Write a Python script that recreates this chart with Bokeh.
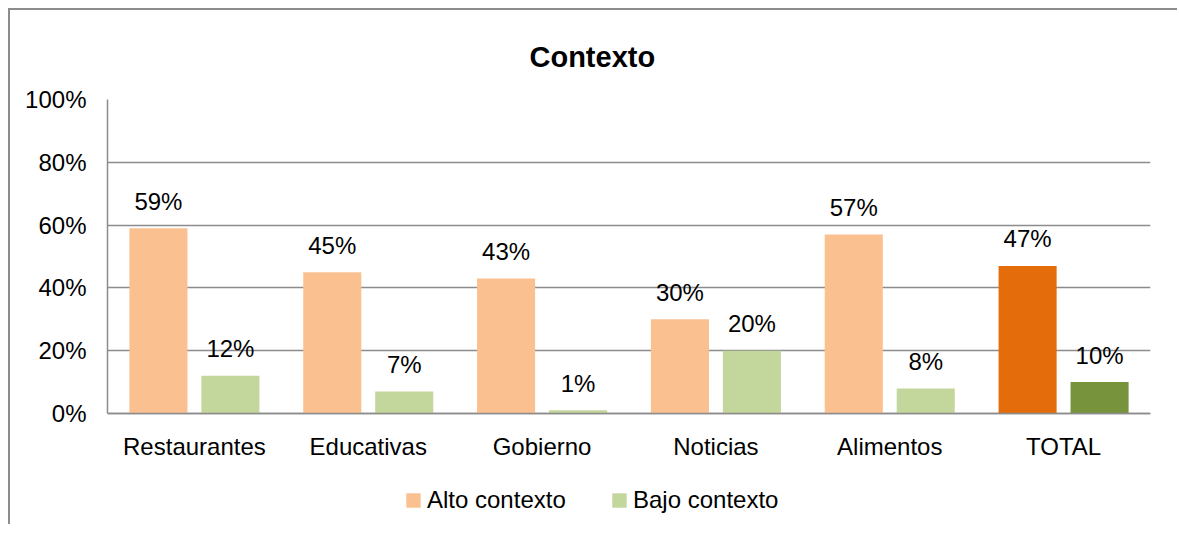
from bokeh.plotting import figure
from bokeh.models import (ColumnDataSource, Range1d, FixedTicker, PrintfTickFormatter,
                          Legend, LegendItem)
from bokeh.transform import dodge
from bokeh.embed import file_html
from bokeh.resources import INLINE
from bokeh.core.properties import value

# ---- data ----
categories = ["Restaurantes", "Educativas", "Gobierno", "Noticias", "Alimentos", "TOTAL"]
alto = [59, 45, 43, 30, 57, 47]
bajo = [12, 7, 1, 20, 8, 10]
alto_colors = ["#FAC090", "#FAC090", "#FAC090", "#FAC090", "#FAC090", "#E46C0A"]
bajo_colors = ["#C3D69B", "#C3D69B", "#C3D69B", "#C3D69B", "#C3D69B", "#77933C"]
series_names = ["Alto contexto", "Bajo contexto"]
y_ticks = [0, 20, 40, 60, 80, 100]
title_text = "Contexto"

FONT = "Liberation Sans"
GRID = "#8c8c8c"

src = ColumnDataSource(dict(
    cat=categories,
    alto=alto,
    bajo=bajo,
    alto_color=alto_colors,
    bajo_color=bajo_colors,
    alto_label=[f"{v}%" for v in alto],
    bajo_label=[f"{v}%" for v in bajo],
))

# frame: 0% at y=413, 100% at y=99 (3.14 px per unit); frame runs down to the
# bottom of the canvas so the legend can sit inside it
Y_MIN = -(526 - 413) / 3.14
p = figure(x_range=categories, y_range=Range1d(Y_MIN, 100),
           width=1169, height=516,
           output_backend="svg", toolbar_location=None,
           min_border_left=97, min_border_right=29,
           min_border_top=89, min_border_bottom=0)
p.styles = {"margin-left": "8px", "margin-top": "8px",
            "border-left": "2px solid #8c8c8c", "border-top": "2px solid #8c8c8c"}

p.outline_line_color = None
p.background_fill_color = "white"
p.border_fill_color = "white"

BW = 0.334
OFF = 0.207
r_alto = p.vbar(x=dodge("cat", -OFF, range=p.x_range), top="alto", bottom=0, width=BW,
                source=src, fill_color="alto_color", line_color=None)
r_bajo = p.vbar(x=dodge("cat", OFF, range=p.x_range), top="bajo", bottom=0, width=BW,
                source=src, fill_color="bajo_color", line_color=None)

for off, col, lab in [(-OFF, "alto", "alto_label"), (OFF, "bajo", "bajo_label")]:
    p.text(x=dodge("cat", off, range=p.x_range), y=col, text=lab, source=src,
           text_align="center", text_baseline="alphabetic", y_offset=-27,
           text_font=value(FONT), text_font_size="24px", text_color="black")

# axes
p.xgrid.grid_line_color = None
p.ygrid.grid_line_color = GRID
p.ygrid.grid_line_width = 1.5
p.yaxis.ticker = FixedTicker(ticks=y_ticks)
p.yaxis.formatter = PrintfTickFormatter(format="%d%%")
p.yaxis.bounds = (0, 100)
p.xaxis.fixed_location = 0
for ax in (p.xaxis[0], p.yaxis[0]):
    ax.axis_line_color = GRID
    ax.axis_line_width = 1.5
    ax.major_tick_line_color = None
    ax.minor_tick_line_color = None
    ax.major_tick_out = 0
    ax.major_tick_in = 0
    ax.major_label_text_font = FONT
    ax.major_label_text_font_size = "24px"
    ax.major_label_text_color = "black"
p.yaxis.major_label_standoff = 21
p.xaxis.major_label_standoff = 19

# title
p.title.text = title_text
p.title.text_font = FONT
p.title.text_font_size = "29px"
p.title.text_font_style = "bold"
p.title.text_color = "black"
p.title.align = "left"
p.title.offset = 422
p.title.standoff = 54

legend = Legend(items=[LegendItem(label=series_names[0], renderers=[r_alto], index=0),
                       LegendItem(label=series_names[1], renderers=[r_bajo], index=0)],
                orientation="horizontal", location=(297, 12),
                glyph_width=18, glyph_height=18, label_standoff=5,
                label_width=151, spacing=32,
                padding=0, margin=0, border_line_color=None, background_fill_alpha=0,
                label_text_font=FONT, label_text_font_size="24px", label_text_color="black")
p.add_layout(legend, "center")

open("out.html", "w").write(file_html(p, INLINE))
